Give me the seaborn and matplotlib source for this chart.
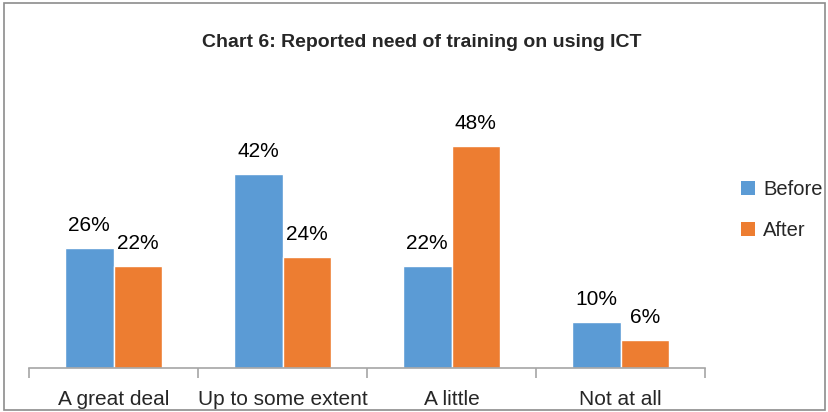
import matplotlib
matplotlib.use("Agg")
import matplotlib.pyplot as plt
import seaborn as sns
import pandas as pd
from matplotlib.patches import Rectangle, Patch
from matplotlib import font_manager

categories = ["A great deal", "Up to some extent", "A little", "Not at all"]
before = [26, 42, 22, 10]
after = [22, 24, 48, 6]
series = ["Before", "After"]
colors = ["#5B9BD5", "#ED7D31"]

names = {f.name for f in font_manager.fontManager.ttflist}
fam = "Liberation Sans Narrow" if "Liberation Sans Narrow" in names else "Liberation Sans"

sns.set_theme(style="white")
plt.rcParams["font.family"] = [fam, "DejaVu Sans"]

df = pd.DataFrame({
    "category": categories * 2,
    "value": before + after,
    "series": ["Before"] * 4 + ["After"] * 4,
})

fig = plt.figure(figsize=(8.29, 4.12), dpi=100)
ax = fig.add_axes([0.035, 0.1068, 0.8155, 0.6722])
sns.barplot(data=df, x="category", y="value", hue="series", hue_order=series,
            palette=colors, width=0.574, saturation=1, ax=ax, legend=False)

for cont in ax.containers:
    ax.bar_label(cont, labels=[f"{v:.0f}%" for v in cont.datavalues],
                 padding=9.5, fontsize=15, color="#000000")

ax.set_ylim(0, 60)
ax.set_xlim(-0.5, 3.5)
ax.set_xlabel("")
ax.set_ylabel("")
ax.set_yticks([])
for s in ["top", "right", "left"]:
    ax.spines[s].set_visible(False)
ax.spines["bottom"].set_color("#A6A6A6")
ax.spines["bottom"].set_linewidth(1.2)
ax.set_xticks([0, 1, 2, 3])
ax.set_xticklabels(categories, fontsize=15)
ax.tick_params(axis="x", length=0, pad=15.5)
ax.set_xticks([-0.5, 0.5, 1.5, 2.5, 3.5], minor=True)
ax.tick_params(axis="x", which="minor", length=7, width=1.2, color="#A6A6A6", bottom=True)

fig.text(0.509, 0.896, "Chart 6: Reported need of training on using ICT",
         ha="center", va="center", fontsize=14, fontweight="bold")

handles = [Patch(facecolor=c, edgecolor="none") for c in colors]
fig.legend(handles, series, loc="center left", bbox_to_anchor=(0.872, 0.49),
           frameon=False, fontsize=14.5, handlelength=0.7, handleheight=0.7,
           handletextpad=0.4, labelspacing=1.1)

fig.patches.append(Rectangle((0.005, 0.004), 0.99, 0.989, transform=fig.transFigure,
                             fill=False, edgecolor="#8C8C8C", linewidth=1.2))

fig.savefig("out.png", dpi=100)
